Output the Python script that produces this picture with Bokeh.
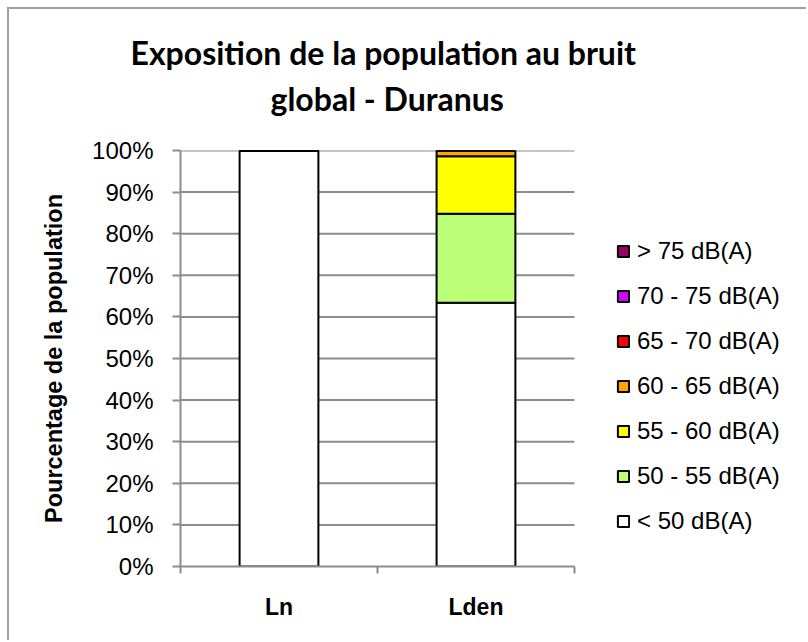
from bokeh.plotting import figure
from bokeh.models import (Range1d, FixedTicker, NumeralTickFormatter, Title,
                          Legend, LegendItem, ColumnDataSource)
from bokeh.embed import file_html
from bokeh.resources import INLINE

# ---- data (percent of population) ----
categories = ["Ln", "Lden"]
cat_pos = [0.5, 1.5]
bands = ["< 50 dB(A)", "50 - 55 dB(A)", "55 - 60 dB(A)", "60 - 65 dB(A)",
         "65 - 70 dB(A)", "70 - 75 dB(A)", "> 75 dB(A)"]
lt50 = [100.0, 63.4]
b50_55 = [0.0, 21.4]
b55_60 = [0.0, 13.8]
b60_65 = [0.0, 1.4]
b65_70 = [0.0, 0.0]
b70_75 = [0.0, 0.0]
gt75 = [0.0, 0.0]
band_colors = ["#FFFFFF", "#BBFF77", "#FFFF00", "#FFA500", "#FF0000", "#D400FF", "#990066"]
y_ticks = [0.0, 0.1, 0.2, 0.3, 0.4, 0.5, 0.6, 0.7, 0.8, 0.9, 1.0]

series = [lt50, b50_55, b55_60, b60_65, b65_70, b70_75, gt75]
keys = ["s%d" % i for i in range(len(series))]
data = {"x": cat_pos}
for k, s in zip(keys, series):
    data[k] = [v / 100.0 for v in s]
source = ColumnDataSource(data)
n_cat = len(categories)

FONT = "Liberation Sans"
GRAY = "#8c8c8c"

# the frame extends to the right edge so that the legend (drawn inside it) is visible;
# the category area spans 0..n_cat, the remainder holds the legend
p = figure(width=799, height=633, output_backend="svg", toolbar_location=None,
           x_range=Range1d(0, 3.188), y_range=Range1d(0, 1),
           min_border_left=171, min_border_right=0, min_border_top=141,
           min_border_bottom=76)
p.styles = {"margin-left": "7px", "margin-top": "7px",
            "border-left": "2px solid #a0a0a0", "border-top": "2px solid #a0a0a0"}
p.outline_line_color = None
p.background_fill_color = "white"
p.border_fill_color = "white"
p.xgrid.visible = False
p.ygrid.visible = False

# horizontal gridlines over the category area only
grid_src = ColumnDataSource({"y": y_ticks[1:], "x0": [0] * (len(y_ticks) - 1),
                             "x1": [n_cat] * (len(y_ticks) - 1)})
p.segment(x0="x0", y0="y", x1="x1", y1="y", source=grid_src,
          line_color=GRAY, line_width=2, level="underlay")

renderers = p.vbar_stack(keys, x="x", width=0.4, source=source,
                         fill_color=band_colors, line_color="black", line_width=2)

# titles (a blank spacer title sits between the frame and the two title lines)
t0 = Title(text=" ", text_font_size="2px", standoff=23)
t2 = Title(text="global - Duranus", align="left", text_font="Lato",
           text_font_size="32px", text_font_style="bold", standoff=11, offset=90,
           text_color="black")
t1 = Title(text="Exposition de la population au bruit", align="left", text_font="Lato",
           text_font_size="32px", text_font_style="bold", standoff=0, offset=-50,
           text_color="black")
p.add_layout(t0, "above")
p.add_layout(t2, "above")
p.add_layout(t1, "above")

# x axis
xa = p.xaxis[0]
xa.bounds = (0, n_cat)
xa.ticker = FixedTicker(ticks=cat_pos, minor_ticks=[0, 1, 2])
xa.major_label_overrides = {cat_pos[i]: categories[i] for i in range(n_cat)}
xa.major_tick_out = 0
xa.major_tick_in = 0
xa.minor_tick_out = 7
xa.minor_tick_in = 0
xa.minor_tick_line_color = GRAY
xa.minor_tick_line_width = 2
xa.axis_line_color = GRAY
xa.axis_line_width = 2
xa.major_label_standoff = 20
xa.major_label_text_font = FONT
xa.major_label_text_font_style = "bold"
xa.major_label_text_font_size = "23px"
xa.major_label_text_color = "black"

# y axis
ya = p.yaxis[0]
ya.ticker = FixedTicker(ticks=y_ticks)
ya.formatter = NumeralTickFormatter(format="0%")
ya.major_tick_out = 8
ya.major_tick_in = 0
ya.minor_tick_out = 0
ya.minor_tick_in = 0
ya.major_tick_line_color = GRAY
ya.major_tick_line_width = 2
ya.axis_line_color = GRAY
ya.axis_line_width = 2
ya.major_label_standoff = 19
ya.major_label_text_font = FONT
ya.major_label_text_font_size = "24px"
ya.major_label_text_color = "black"
ya.axis_label = "Pourcentage de la population"
ya.axis_label_text_font = FONT
ya.axis_label_text_font_style = "bold"
ya.axis_label_text_font_size = "23.5px"
ya.axis_label_text_color = "black"
ya.axis_label_standoff = 22

# legend (top to bottom: > 75 ... < 50)
items = [LegendItem(label=bands[i], renderers=[renderers[i]]) for i in reversed(range(len(bands)))]
legend = Legend(items=items, location=(436, 31), margin=0, padding=0,
                glyph_width=14, glyph_height=14, label_standoff=7,
                label_height=23, spacing=17, label_text_color="black",
                label_text_font=FONT, label_text_font_size="24px",
                border_line_color=None, background_fill_alpha=0)
p.add_layout(legend, "center")

open("out.html", "w").write(file_html(p, INLINE))
